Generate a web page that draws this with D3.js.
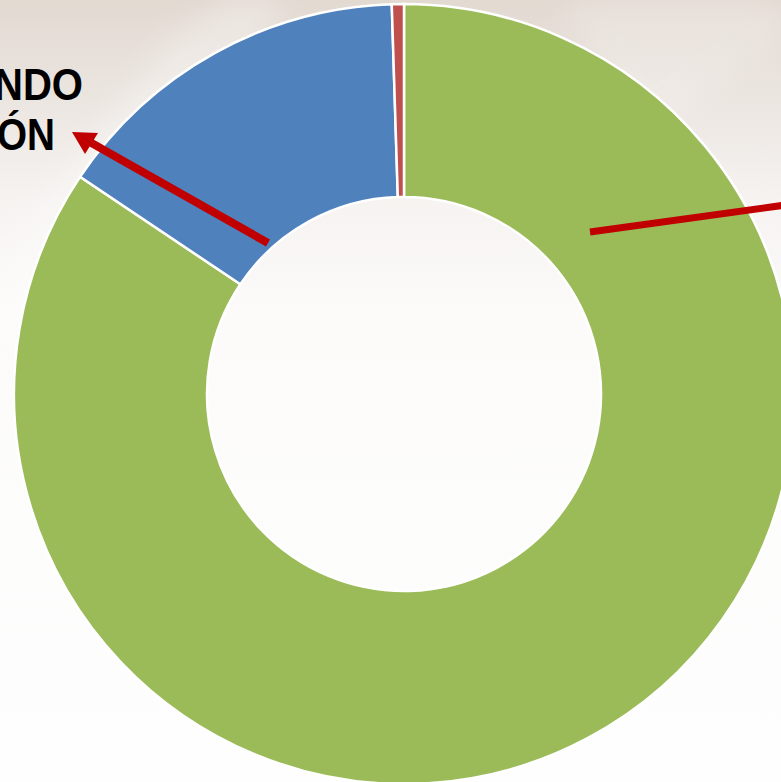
<!DOCTYPE html>
<html>
<head>
  <meta charset="UTF-8">
  <title></title>
  <style>
    body{ margin:0; overflow:hidden; }
    .label{ font-family: 'Liberation Sans', Arial, sans-serif; font-weight:bold; font-size:44px; fill:#000; }
    .slices path{ stroke:#fff; stroke-width:2.5; }
  </style>
</head>
<body>
  <script src="https://cdnjs.cloudflare.com/ajax/libs/d3/7.8.5/d3.min.js"></script>
  <script>
/// data
var categories = ["Operando", "En rehabilitación", "Sin operar"];
var values = [84.4, 15.1, 0.5];
var colors = ["#9bbb59", "#4f81bd", "#c0504d"];
var labelLines = ["NDO", "ÓN"];

/// main
var width = 781, height = 782;
var cx = 404, cy = 394, outerR = 390, innerR = 197;

var svg = d3.select("body").append("svg")
    .attr("width", width)
    .attr("height", height);

// background
var defs = svg.append("defs");
var grad = defs.append("linearGradient")
    .attr("id", "bg").attr("x1", 0).attr("y1", 0).attr("x2", 0).attr("y2", 1);
[[0, "#e2d9d1"], [0.12, "#ebe5e0"], [0.26, "#f6f3f1"], [0.4, "#fcfbfa"], [1, "#fefefe"]]
  .forEach(function(s){ grad.append("stop").attr("offset", s[0]).attr("stop-color", s[1]); });
defs.append("filter").attr("id", "soft")
  .append("feGaussianBlur").attr("stdDeviation", 14);
svg.append("rect").attr("width", width).attr("height", height).attr("fill", "url(#bg)");

// faint diagonal streaks of the slide texture
svg.append("path")
    .attr("d", "M0,260 L170,40 L230,0 L290,0 L60,310 L0,340 Z")
    .attr("fill", "#ffffff").attr("opacity", 0.3)
    .attr("filter", "url(#soft)");
svg.append("path")
    .attr("d", "M560,0 L781,0 L781,40 L640,140 Z")
    .attr("fill", "#ffffff").attr("opacity", 0.2)
    .attr("filter", "url(#soft)");

// donut
var pie = d3.pie().sort(null).value(function(d){ return d; });
var arc = d3.arc().innerRadius(innerR).outerRadius(outerR);

svg.append("g")
    .attr("class", "slices")
    .attr("transform", "translate(" + cx + "," + cy + ")")
  .selectAll("path")
  .data(pie(values))
  .enter().append("path")
    .attr("d", arc)
    .attr("fill", function(d, i){ return colors[i]; })
  .append("title")
    .text(function(d, i){ return categories[i] + ": " + values[i] + "%"; });

// labels (cut off on the left, like the slide)
svg.append("text").attr("class", "label")
    .attr("x", -6).attr("y", 100)
    .attr("textLength", 89).attr("lengthAdjust", "spacingAndGlyphs")
    .text(labelLines[0]);
svg.append("text").attr("class", "label")
    .attr("x", -3).attr("y", 150)
    .attr("textLength", 58).attr("lengthAdjust", "spacingAndGlyphs")
    .text(labelLines[1]);

// arrows
var red = "#c00000";
svg.append("line")
    .attr("x1", 268).attr("y1", 243).attr("x2", 88).attr("y2", 141)
    .attr("stroke", red).attr("stroke-width", 8);
svg.append("path")
    .attr("d", "M72,132 L98,133 L85,154 Z")
    .attr("fill", red);
svg.append("line")
    .attr("x1", 590).attr("y1", 232).attr("x2", 800).attr("y2", 203)
    .attr("stroke", red).attr("stroke-width", 7);
  </script>
</body>
</html>
